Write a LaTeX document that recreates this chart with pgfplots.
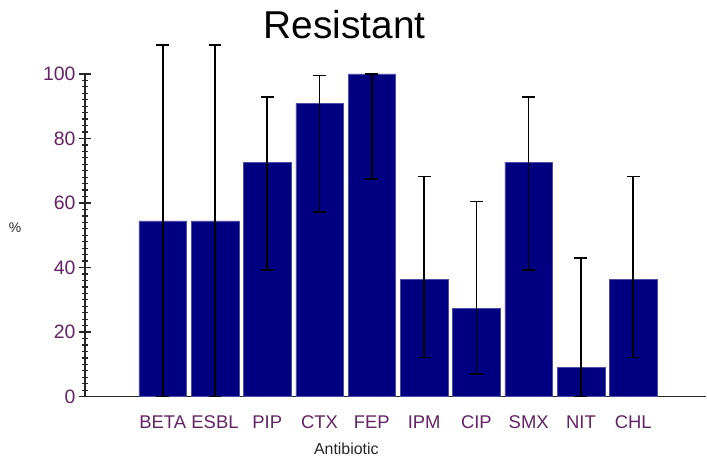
\documentclass[border=0pt]{standalone}
\usepackage{fontspec}
\setmainfont{Liberation Sans}
\usepackage{pgfplots}
\pgfplotsset{compat=1.18}
\usepackage{pgfplotstable}
\definecolor{barblue}{HTML}{000080}
\definecolor{lblpurple}{RGB}{100,35,100}
\pgfplotstableread{
x val plus minus
0 54.5 54.5 54.5
1 54.5 54.5 54.5
2 72.7 20.1 33.5
3 90.9 8.6 33.7
4 100 0 32.5
5 36.4 31.8 24.3
6 27.3 33.2 20.2
7 72.7 20.1 33.5
8 9.1 33.9 9.1
9 36.4 31.8 24.3
}\datatable
\begin{document}
\begin{tikzpicture}
\begin{axis}[
  scale only axis,
  width=622bp, height=323bp,
  xmin=-1.488, xmax=10.398,
  ymin=0, ymax=100,
  clip=false,
  axis x line=bottom, axis y line=left,
  axis line style={-, line width=1.3pt, draw=black!85},
  tick align=center,
  tick style={line width=1.3pt, draw=black!85},
  xtick={0,...,9},
  xticklabels={BETA,ESBL,PIP,CTX,FEP,IPM,CIP,SMX,NIT,CHL},
  major x tick style={draw=none},
  extra x ticks={-0.5,0.5,...,9.5},
  extra x tick labels={},
  extra x tick style={major tick length=14bp, tick style={line width=1.3pt, draw=black!85}},
  xticklabel style={font=\fontsize{18.5}{20}\selectfont, text=lblpurple, anchor=base, yshift=-26bp},
  ytick={0,20,...,100},
  minor y tick num=9,
  major tick length=12bp,
  minor tick length=6bp,
  minor y tick style={line width=1.3pt, draw=black!85},
  major y tick style={line width=1.3pt, draw=black!85},
  yticklabel style={font=\fontsize{19.5}{20}\selectfont, text=lblpurple},
  /pgf/number format/assume math mode=true,
  ylabel={\%},
  ylabel style={rotate=-90, at={(rel axis cs:-0.1125,0.523)}, anchor=center, font=\fontsize{14}{15}\selectfont, text=black!85},
]
\addplot[ybar, bar width=0.91, fill=barblue, draw=barblue!70!white, line width=0.4pt,
  error bars/.cd, y dir=both, y explicit,
  error bar style={line width=1.6pt, black},
  error mark options={rotate=90, mark size=6.5bp, line width=1.6pt, black}]
  table[x=x, y=val, y error plus=plus, y error minus=minus] {\datatable};
\node[anchor=base, font=\fontsize{39}{44}\selectfont] at (rel axis cs:0.418,1.111) {Resistant};
\node[anchor=base, font=\fontsize{16}{18}\selectfont, text=black!85] at (rel axis cs:0.4207,-0.18) {Antibiotic};
\end{axis}
\path[use as bounding box] (-85bp,-61bp) rectangle (622bp,397bp);
\end{tikzpicture}
\end{document}
